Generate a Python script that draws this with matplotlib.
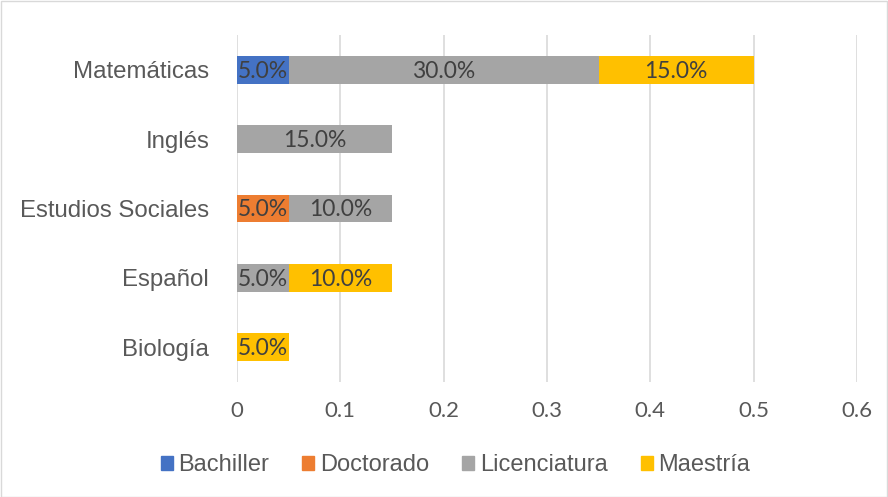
import matplotlib.pyplot as plt
import numpy as np
from matplotlib.patches import Patch

# data
categories = ['Biología', 'Español', 'Estudios Sociales', 'Inglés', 'Matemáticas']
series = ['Bachiller', 'Doctorado', 'Licenciatura', 'Maestría']
bachiller = [0.0, 0.0, 0.0, 0.0, 0.05]
doctorado = [0.0, 0.0, 0.05, 0.0, 0.0]
licenciatura = [0.0, 0.05, 0.10, 0.15, 0.30]
maestria = [0.05, 0.10, 0.0, 0.0, 0.15]
xticks = [0, 0.1, 0.2, 0.3, 0.4, 0.5, 0.6]
xtick_labels = ['0', '0.1', '0.2', '0.3', '0.4', '0.5', '0.6']
colors = ['#4472C4', '#ED7D31', '#A5A5A5', '#FFC000']

fig = plt.figure(figsize=(8.88, 4.97), dpi=100)
ax = fig.add_axes([0.2669, 0.232, 0.6982, 0.697])

y = np.arange(len(categories))
left = np.zeros(len(categories))
for name, vals, c in zip(series, [bachiller, doctorado, licenciatura, maestria], colors):
    vals = np.array(vals)
    ax.barh(y, vals, left=left, height=0.4, color=c, zorder=3)
    for yi, v, l in zip(y, vals, left):
        if v > 0:
            ax.text(l + v / 2, yi - 0.02, f'{v*100:.1f}%', ha='center', va='center',
                    fontsize=16.5, family='Lato', color='#404040', zorder=4)
    left += vals

ax.set_xlim(0, 0.6)
ax.set_ylim(-0.5, 4.5)
ax.set_xticks(xticks)
ax.set_xticklabels(xtick_labels)
ax.set_yticks(y)
ax.set_yticklabels(categories)
for t in ax.get_yticklabels():
    t.set_family('Liberation Sans')
    t.set_fontsize(17.3)
    t.set_color('#595959')
for t in ax.get_xticklabels():
    t.set_family('Lato')
    t.set_fontsize(16)
    t.set_color('#595959')
ax.grid(axis='x', color='#D9D9D9', linewidth=1.2, zorder=0)
for s in ax.spines.values():
    s.set_visible(False)
ax.tick_params(axis='x', length=0, pad=14)
ax.tick_params(axis='y', length=0, pad=20)

handles = [Patch(color=c, label=n) for n, c in zip(series, colors)]
fig.legend(handles=handles, loc='center', bbox_to_anchor=(0.513, 0.064), ncol=4,
           frameon=False, handlelength=0.5, handleheight=0.5, handletextpad=0.25,
           columnspacing=1.4, prop={'family': 'Liberation Sans', 'size': 17},
           labelcolor='#595959')

fig.patches.append(plt.Rectangle((0.001, 0.001), 0.998, 0.997, transform=fig.transFigure,
                                 fill=False, edgecolor='#D9D9D9', linewidth=1))
fig.savefig('out.png', dpi=100)
